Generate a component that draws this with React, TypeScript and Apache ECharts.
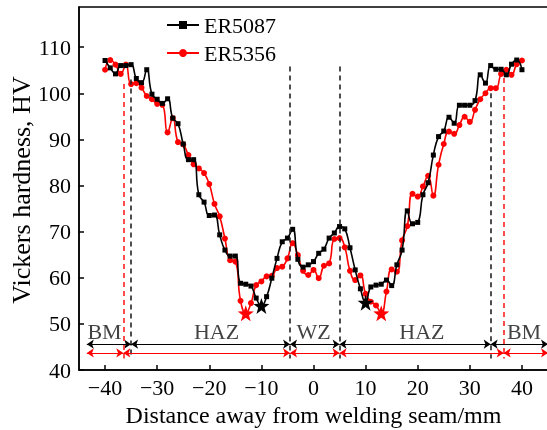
import React, { useEffect, useRef } from "react";
import * as echarts from "echarts";

const FONT = "'Liberation Serif','Times New Roman',serif";

const positions = [
  -40, -39, -38, -37, -36, -35, -34, -33, -32, -31, -30, -29, -28, -27, -26, -25, -24, -23, -22, -21,
  -20, -19, -18, -17, -16, -15, -14, -13, -12, -11, -10, -9, -8, -7, -6, -5, -4, -3, -2, -1,
  0, 1, 2, 3, 4, 5, 6, 7, 8, 9, 10, 11, 12, 13, 14, 15, 16, 17, 18, 19,
  20, 21, 22, 23, 24, 25, 26, 27, 28, 29, 30, 31, 32, 33, 34, 35, 36, 37, 38, 39, 40,
];

const er5087 = [
  107.1, 105.5, 104.2, 106.0, 106.0, 106.2, 103.2, 102.3, 105.1, 99.8, 98.7, 97.8, 98.8, 94.6, 93.4, 89.0, 85.6, 85.6, 78.0, 76.4,
  73.5, 73.6, 69.3, 66.0, 64.7, 64.7, 58.8, 58.6, 58.2, 55.6, 53.9, 55.9, 59.9, 64.2, 67.8, 68.6, 70.5, 64.0, 62.3, 62.8,
  63.5, 65.3, 66.2, 68.6, 69.7, 71.1, 70.6, 66.5, 61.7, 57.6, 54.6, 58.0, 58.4, 58.6, 59.5, 58.3, 62.8, 66.0, 74.5, 71.7,
  72.0, 78.0, 80.6, 86.6, 90.6, 91.8, 94.8, 93.5, 97.4, 97.4, 97.4, 98.4, 104.0, 102.2, 106.0, 105.2, 105.2, 104.0, 106.3, 107.2, 105.1,
];

const er5356 = [
  105.1, 107.2, 106.2, 104.2, 106.2, 102.0, 102.2, 101.2, 99.4, 98.7, 97.7, 97.5, 91.5, 94.6, 89.4, 88.9, 86.6, 84.6, 83.7, 82.7,
  80.3, 76.0, 73.3, 68.5, 63.8, 63.5, 55.0, 52.3, 54.5, 58.4, 59.2, 60.3, 60.4, 62.1, 62.4, 64.2, 67.5, 64.9, 61.5, 60.6,
  61.7, 59.9, 62.6, 63.1, 68.4, 68.6, 66.6, 61.5, 59.5, 60.5, 56.5, 54.8, 54.0, 52.3, 57.0, 61.8, 61.3, 68.1, 71.2, 78.2,
  77.6, 79.8, 82.1, 77.8, 84.5, 89.0, 91.7, 91.2, 93.1, 94.9, 93.8, 96.4, 98.7, 100.0, 101.1, 101.1, 104.2, 105.1, 104.0, 106.3, 107.1,
];

// positions of the minimum-hardness points (stars)
const er5087Minima = [-10, 10];
const er5356Minima = [-13, 13];

const xTicks = [-40, -30, -20, -10, 0, 10, 20, 30, 40];
const yTicks = [40, 50, 60, 70, 80, 90, 100, 110];

// zone boundaries (mm) and the top of each dashed marker (HV)
const er5087Bounds = [-35, -4.5, 5, 34];
const er5087BoundTops = [103, 105.8, 105.8, 100];
const er5356Bounds = [-36.5, 36.5];
const er5356BoundTops = [102, 103.3];
const boundBottom = 42.5;

// zone arrows: extents and levels
const zoneEdges = [-43.5, 45];
const er5087ArrowLevel = 45.6;
const er5356ArrowLevel = 43.7;
const er5356ArrowBounds = [-36.5, -4.5, 5, 36.5];

const zoneNames = ["BM", "HAZ", "WZ", "HAZ", "BM"];
const zoneLabelX = [-40.1, -18.6, 0, 20.8, 40.4];
const zoneLabelY = 48.4;

const yTitle = "Vickers hardness, HV";
const xTitle = "Distance away from welding seam/mm";

const STAR =
  "path://M0,-10 L2.35,-3.24 L9.51,-3.09 L3.8,1.24 L5.88,8.09 L0,4 L-5.88,8.09 L-3.8,1.24 L-9.51,-3.09 L-2.35,-3.24 Z";

function buildData(vals: number[], minima: number[]) {
  return positions.map((x, i) =>
    minima.includes(x)
      ? { value: [x, vals[i]], symbol: STAR, symbolSize: 16 }
      : [x, vals[i]]
  );
}

function arrows(bounds: number[], level: number, color: string) {
  const pts = [zoneEdges[0], ...bounds, zoneEdges[1]];
  const out: any[] = [];
  for (let i = 0; i < pts.length - 1; i++) {
    out.push([
      { coord: [pts[i], level], symbol: "arrow", symbolSize: 7, lineStyle: { color, width: 1.2, type: "solid" } },
      { coord: [pts[i + 1], level], symbol: "arrow", symbolSize: 7 },
    ]);
  }
  return out;
}

function verticals(bounds: number[], tops: number[], color: string) {
  return bounds.map((b, i) => [
    { coord: [b, tops[i]], symbol: "none", lineStyle: { color, width: 1.6, type: [5, 4] } },
    { coord: [b, boundBottom], symbol: "none" },
  ]);
}

export default function App() {
  const ref = useRef<HTMLDivElement>(null);
  useEffect(() => {
    if (!ref.current) return;
    const chart = echarts.init(ref.current, undefined, { renderer: "svg" });
    const option: any = {
      animation: false,
      textStyle: { fontFamily: FONT },
      grid: {
        left: 79,
        top: 7,
        width: 469,
        bottom: 60,
        show: true,
        borderColor: "#000",
        borderWidth: 1.5,
        containLabel: false,
        outerBoundsMode: "none",
      },
      graphic: [
        {
          type: "text",
          x: 21,
          y: 190,
          rotation: Math.PI / 2,
          style: {
            text: yTitle,
            fontSize: 26,
            fontFamily: FONT,
            fill: "#000",
            align: "center",
            verticalAlign: "middle",
          },
        },
      ],
      legend: {
        data: ["ER5087", "ER5356"],
        orient: "vertical",
        left: 161,
        top: 9,
        itemWidth: 32,
        itemHeight: 10,
        itemGap: 6,
        textStyle: { fontSize: 22, color: "#000", fontFamily: FONT },
      },
      xAxis: {
        type: "value",
        min: -45,
        max: 45,
        name: xTitle,
        nameLocation: "middle",
        nameGap: 30,
        nameTextStyle: { fontSize: 24, color: "#000", fontFamily: FONT },
        axisLine: { onZero: false, lineStyle: { color: "#000", width: 1.5 } },
        axisTick: { inside: true, length: 5, customValues: xTicks, lineStyle: { color: "#000", width: 1.5 } },
        axisLabel: {
          customValues: xTicks,
          formatter: (v: number) => String(v).replace("-", "\u2212"),
          color: "#000",
          fontSize: 22,
          margin: 6,
          fontFamily: FONT,
        },
        splitLine: { show: false },
      },
      yAxis: {
        type: "value",
        min: 40,
        max: 118.7,
        axisLine: { onZero: false, lineStyle: { color: "#000", width: 1.5 } },
        axisTick: { inside: true, length: 5, customValues: yTicks, lineStyle: { color: "#000", width: 1.5 } },
        axisLabel: { customValues: yTicks, color: "#000", fontSize: 22, margin: 8, fontFamily: FONT },
        splitLine: { show: false },
      },
      series: [
        {
          name: "ER5087",
          type: "line",
          smooth: 0.5,
          symbol: "rect",
          symbolSize: 5,
          color: "#000",
          lineStyle: { width: 1.6, color: "#000" },
          itemStyle: { color: "#000" },
          data: buildData(er5087, er5087Minima),
          z: 4,
          markLine: {
            silent: true,
            symbol: ["none", "none"],
            label: { show: false },
            emphasis: { disabled: true },
            data: [
              ...verticals(er5087Bounds, er5087BoundTops, "#222"),
              ...arrows(er5087Bounds, er5087ArrowLevel, "#000"),
            ],
          },
        },
        {
          name: "ER5356",
          type: "line",
          smooth: 0.5,
          symbol: "circle",
          symbolSize: 6,
          color: "#ff0000",
          lineStyle: { width: 1.6, color: "#ff0000" },
          itemStyle: { color: "#ff0000" },
          data: buildData(er5356, er5356Minima),
          z: 3,
          markLine: {
            silent: true,
            symbol: ["none", "none"],
            label: { show: false },
            emphasis: { disabled: true },
            data: [
              ...verticals(er5356Bounds, er5356BoundTops, "#ff2020"),
              ...arrows(er5356ArrowBounds, er5356ArrowLevel, "#ff0000"),
            ],
          },
        },
        {
          name: "zones",
          type: "scatter",
          symbolSize: 1,
          itemStyle: { color: "transparent" },
          silent: true,
          data: zoneNames.map((n, i) => [zoneLabelX[i], zoneLabelY, n]),
          label: {
            show: true,
            position: "inside",
            formatter: (p: any) => p.data[2],
            fontSize: 22,
            color: "#111",
            fontFamily: FONT,
          },
        },
      ],
    };
    chart.setOption(option);
    return () => chart.dispose();
  }, []);
  return (
    <div
      ref={ref}
      style={{ position: "fixed", left: 0, top: 0, width: 547, height: 430 }}
    />
  );
}
